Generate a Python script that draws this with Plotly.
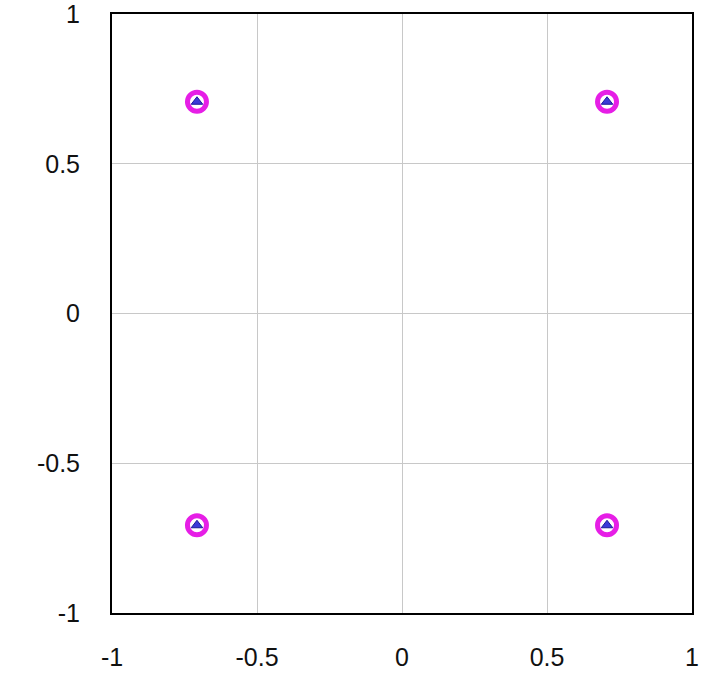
import plotly.graph_objects as go

# Data points
circle_x = [-0.707, 0.707, -0.707, 0.707]
circle_y = [0.707, 0.707, -0.707, -0.707]
tri_x = [-0.707, 0.707, -0.707, 0.707]
tri_y = [0.707, 0.707, -0.707, -0.707]
tick_vals = [-1, -0.5, 0, 0.5, 1]
tick_text = ["-1", "-0.5", "0", "0.5", "1"]

fig = go.Figure()
fig.add_trace(go.Scatter(
    x=circle_x, y=circle_y, mode="markers",
    marker=dict(symbol="circle", size=19, color="white",
                line=dict(color="#e61ee6", width=5)),
    showlegend=False, cliponaxis=False))
fig.add_trace(go.Scatter(
    x=tri_x, y=tri_y, mode="markers",
    marker=dict(symbol="triangle-up", size=10, color="#3a3ad8",
                line=dict(color="#1a1a9a", width=1)),
    showlegend=False, cliponaxis=False))

axis_common = dict(
    range=[-1, 1], tickvals=tick_vals, ticktext=tick_text,
    showgrid=True, gridcolor="#c8c8c8", gridwidth=1,
    showline=True, linecolor="black", linewidth=2, mirror=True,
    zeroline=False, ticks="", automargin=False, ticklabeloverflow="allow",
    tickfont=dict(family="Liberation Sans, Arial, sans-serif", size=25, color="#111111"),
)

fig.update_layout(
    width=708, height=677,
    margin=dict(l=112, r=16, t=14, b=64),
    paper_bgcolor="white", plot_bgcolor="white",
    xaxis=dict(**axis_common, ticklabelstandoff=21),
    yaxis=dict(**axis_common, ticklabelstandoff=25),
)

fig.write_html("out.html", config={"displayModeBar": False},
               post_script="document.body.style.margin='0px';")
